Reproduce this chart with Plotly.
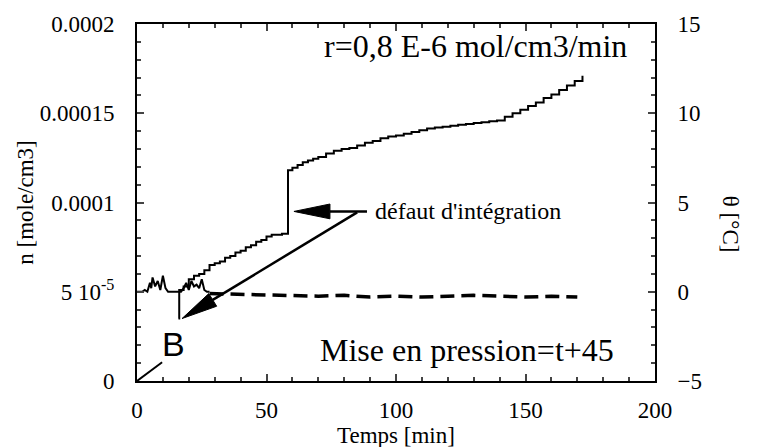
import math
import plotly.graph_objects as go

# quantite de matiere n [mole/cm3] en fonction du temps [min]
t_n = [16, 16.3, 18, 20, 22, 24, 26, 28, 30, 32, 34, 36, 38, 40, 42, 44, 46, 48, 50,
       52, 54, 56, 57.3, 58.3, 60, 62, 64, 66, 68, 70, 73, 76, 79, 82, 85, 88, 91, 94,
       97, 100, 103, 106, 109, 112, 115, 118, 121, 124, 127, 130, 133, 136, 139, 142,
       145, 148, 151, 154, 157, 160, 163, 166, 169, 172]
n_vals = [3.5e-5, 5.1e-5, 5.3e-5, 5.7e-5, 5.9e-5, 6.0e-5, 6.2e-5, 6.5e-5, 6.6e-5, 6.7e-5,
          6.9e-5, 7.0e-5, 7.2e-5, 7.3e-5, 7.5e-5, 7.6e-5, 7.8e-5, 7.9e-5, 8.1e-5, 8.2e-5,
          8.2e-5, 8.25e-5, 8.25e-5, 11.8e-5, 11.95e-5, 12.1e-5, 12.25e-5, 12.35e-5, 12.45e-5,
          12.55e-5, 12.75e-5, 12.9e-5, 13.0e-5, 13.05e-5, 13.2e-5, 13.35e-5, 13.45e-5,
          13.6e-5, 13.7e-5, 13.75e-5, 13.85e-5, 13.95e-5, 14.05e-5, 14.15e-5, 14.2e-5,
          14.25e-5, 14.3e-5, 14.35e-5, 14.4e-5, 14.45e-5, 14.5e-5, 14.55e-5, 14.6e-5,
          14.8e-5, 15.0e-5, 15.2e-5, 15.4e-5, 15.6e-5, 15.85e-5, 16.05e-5, 16.3e-5,
          16.55e-5, 16.8e-5, 17.1e-5]

# temperature theta [C], debut (trait plein) puis pointilles
t_temp1 = [0, 2, 3, 4, 5, 5.5, 6, 7, 8, 9, 10, 11, 12, 13, 14, 15, 16, 17, 18, 19, 20,
           21, 22, 23, 24, 25, 26, 27, 28]
temp1 = [0, 0, 0.1, 0, 0.5, 0.2, 0.8, 0.3, 0.6, 0.1, 0.9, 0.2, 0, 0, 0, 0, 0, 0, 0.2,
         0.5, 0.1, 0.6, 0.3, 0.4, 0.2, 0.7, 0.1, 0, 0]
t_temp2 = [28, 40, 50, 60, 70, 80, 90, 100, 110, 120, 130, 140, 150, 160, 170]
temp2 = [-0.1, -0.15, -0.2, -0.2, -0.25, -0.2, -0.3, -0.25, -0.3, -0.25, -0.2, -0.25,
         -0.3, -0.25, -0.3]

# rampe de mise en pression (B)
t_ramp = [0, 9.7]
n_ramp = [0, 1.05e-5]

# fleches (queue -> pointe), en unites des axes
arrow1 = ((88.8, 9.5e-5), (60.6, 9.5e-5))
arrow2 = ((85, 9.45e-5), (17.4, 3.5e-5))

serif = "Liberation Serif, Times New Roman, serif"
W_PLOT, H_PLOT = 518, 362
X_RANGE, Y_RANGE = [0, 200], [0, 0.0002]

fig = go.Figure()
fig.add_trace(go.Scatter(x=t_n, y=n_vals, mode="lines", line_shape="hv",
                         line=dict(color="black", width=2)))
fig.add_trace(go.Scatter(x=t_ramp, y=n_ramp, mode="lines", line=dict(color="black", width=2)))
fig.add_trace(go.Scatter(x=t_temp1, y=temp1, mode="lines", yaxis="y2",
                         line=dict(color="black", width=2)))
fig.add_trace(go.Scatter(x=t_temp2, y=temp2, mode="lines", yaxis="y2",
                         line=dict(color="black", width=3.5, dash="14px,7px")))

# axes
fig.update_layout(
    width=762, height=447,
    margin=dict(l=137, r=762 - 137 - W_PLOT, t=19, b=447 - 19 - H_PLOT),
    plot_bgcolor="white", paper_bgcolor="white",
    showlegend=False,
    font=dict(family=serif, size=23, color="black"),
    xaxis=dict(range=X_RANGE, dtick=50, ticks="inside", ticklen=7, tickwidth=2,
               minor=dict(dtick=10, ticks="inside", ticklen=4, tickwidth=1.5),
               showline=True, linewidth=2, linecolor="black", mirror="ticks",
               showgrid=False, zeroline=False, ticklabelstandoff=7,
               tickfont=dict(family=serif, size=23)),
    yaxis=dict(range=Y_RANGE, tickmode="array",
               tickvals=[0, 5e-5, 1e-4, 1.5e-4, 2e-4],
               ticktext=["0", "5 10<sup>-5</sup>", "0.0001", "0.00015", "0.0002"],
               ticks="inside", ticklen=7, tickwidth=2,
               minor=dict(dtick=1e-5, tick0=0, ticks="inside", ticklen=4, tickwidth=1.5),
               showline=True, linewidth=2, linecolor="black",
               showgrid=False, zeroline=False, ticklabelstandoff=16,
               tickfont=dict(family=serif, size=23),
               title=dict(text="n [mole/cm3]", standoff=0, font=dict(family=serif, size=23))),
    yaxis2=dict(range=[-5, 15], dtick=5, overlaying="y", side="right",
                ticks="inside", ticklen=7, tickwidth=2,
                minor=dict(dtick=1, ticks="inside", ticklen=4, tickwidth=1.5),
                showline=True, linewidth=2, linecolor="black",
                showgrid=False, zeroline=False, ticklabelstandoff=16,
                tickfont=dict(family=serif, size=23)),
)

# textes
fig.add_annotation(x=190, y=1.875e-4, xref="x", yref="y", text="r=0,8 E-6 mol/cm3/min",
                   showarrow=False, xanchor="right", yanchor="middle",
                   font=dict(family=serif, size=32))
fig.add_annotation(x=70, y=1.71e-5, xref="x", yref="y", text="Mise en pression=t+45",
                   showarrow=False, xanchor="left", yanchor="middle",
                   font=dict(family=serif, size=32))
fig.add_annotation(x=14, y=2.1e-5, xref="x", yref="y", text="B", showarrow=False,
                   font=dict(family="Liberation Sans", size=34))
fig.add_annotation(x=91, y=9.5e-5, xref="x", yref="y", text="défaut d'intégration",
                   showarrow=False, xanchor="left", yanchor="middle",
                   font=dict(family=serif, size=24))
fig.add_annotation(xref="paper", yref="paper", x=0.5, y=-0.152, text="Temps [min]",
                   showarrow=False, yanchor="middle", font=dict(family=serif, size=23))
fig.add_annotation(xref="paper", yref="paper", x=1.145, y=0.44, text="θ [°C]",
                   showarrow=False, textangle=90, xanchor="center", yanchor="middle",
                   font=dict(family=serif, size=23))

# fleches a pointe pleine et effilee
sx = W_PLOT / (X_RANGE[1] - X_RANGE[0])
sy = H_PLOT / (Y_RANGE[1] - Y_RANGE[0])


def add_arrow(tail, head, head_len=36, head_w=15):
    dx = (head[0] - tail[0]) * sx
    dy = (head[1] - tail[1]) * sy
    d = math.hypot(dx, dy)
    ux, uy = dx / d, dy / d
    bx = head[0] - head_len * ux / sx
    by = head[1] - head_len * uy / sy
    c1 = (bx - uy * head_w / 2 / sx, by + ux * head_w / 2 / sy)
    c2 = (bx + uy * head_w / 2 / sx, by - ux * head_w / 2 / sy)
    fig.add_shape(type="line", xref="x", yref="y", x0=tail[0], y0=tail[1], x1=bx, y1=by,
                  line=dict(color="black", width=2.5))
    fig.add_shape(type="path", xref="x", yref="y",
                  path=f"M {head[0]},{head[1]} L {c1[0]},{c1[1]} L {c2[0]},{c2[1]} Z",
                  fillcolor="black", line=dict(color="black", width=1))


add_arrow(*arrow1)
add_arrow(*arrow2)

fig.write_html("out.html", config={"displayModeBar": False},
               post_script="document.body.style.margin='0';")
